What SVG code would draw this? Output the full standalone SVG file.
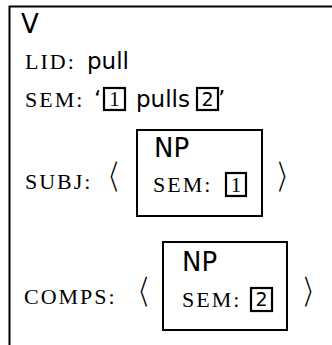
<svg xmlns="http://www.w3.org/2000/svg" width="332" height="345" viewBox="0 0 332 345">
<style>
.sf{font-family:"Liberation Serif","DejaVu Serif",serif;font-size:22px;letter-spacing:2px;fill:#000}
.ss{font-family:"DejaVu Sans","Liberation Sans",sans-serif;fill:#000}
.big{font-size:26px}
.mid{font-size:23px}
.br{font-family:"Noto Sans CJK JP","Noto Sans CJK SC",sans-serif;font-size:30px;fill:#000;text-anchor:middle}
.d1{font-family:"Liberation Serif",serif;font-size:21px;fill:#000;text-anchor:middle}
.d2{font-family:"DejaVu Sans",sans-serif;font-size:19px;fill:#000;text-anchor:middle}
.box{fill:none;stroke:#000;stroke-width:2}
.tag{fill:none;stroke:#000;stroke-width:2.2}
</style>
<rect width="332" height="345" fill="#fff"/>
<g id="outer">
<rect class="box" x="9.5" y="6.5" width="340" height="360"/>
<text class="ss big" x="21" y="33">V</text>
<text class="sf" x="25" y="69">LID:</text>
<text class="ss mid" x="87" y="69">pull</text>
<text class="sf" x="25" y="107">SEM:</text>
<text class="ss mid" x="94" y="107">‘</text>
<rect class="tag" x="104" y="88" width="21" height="22"/>
<text class="d1" x="114.5" y="106">1</text>
<text class="ss mid" x="136" y="107">pulls</text>
<rect class="tag" x="197" y="88" width="21" height="22"/>
<text class="d2" x="207.5" y="106">2</text>
<text class="ss mid" x="218" y="107">’</text>
</g>
<g id="subj">
<text class="sf" x="25" y="189">SUBJ:</text>
<text class="br" transform="translate(109,189) scale(0.6,1.1)">〈</text>
<text class="br" transform="translate(287,189) scale(0.6,1.1)">〉</text>
</g>
<g id="np1">
<rect class="box" x="137" y="130" width="125" height="86"/>
<text class="ss big" x="154" y="157">NP</text>
<text class="sf" x="153" y="192">SEM:</text>
<rect class="tag" x="226" y="173" width="20" height="23"/>
<text class="d1" x="236" y="192">1</text>
</g>
<g id="comps">
<text class="sf" x="24" y="304">COMPS:</text>
<text class="br" transform="translate(139,304) scale(0.6,1.1)">〈</text>
<text class="br" transform="translate(313,304) scale(0.6,1.1)">〉</text>
</g>
<g id="np2">
<rect class="box" x="163" y="242" width="124" height="88"/>
<text class="ss big" x="182" y="271">NP</text>
<text class="sf" x="182" y="307">SEM:</text>
<rect class="tag" x="251" y="288" width="21" height="23"/>
<text class="d2" x="261.5" y="306">2</text>
</g>
<g id="connectors"></g>
</svg>
